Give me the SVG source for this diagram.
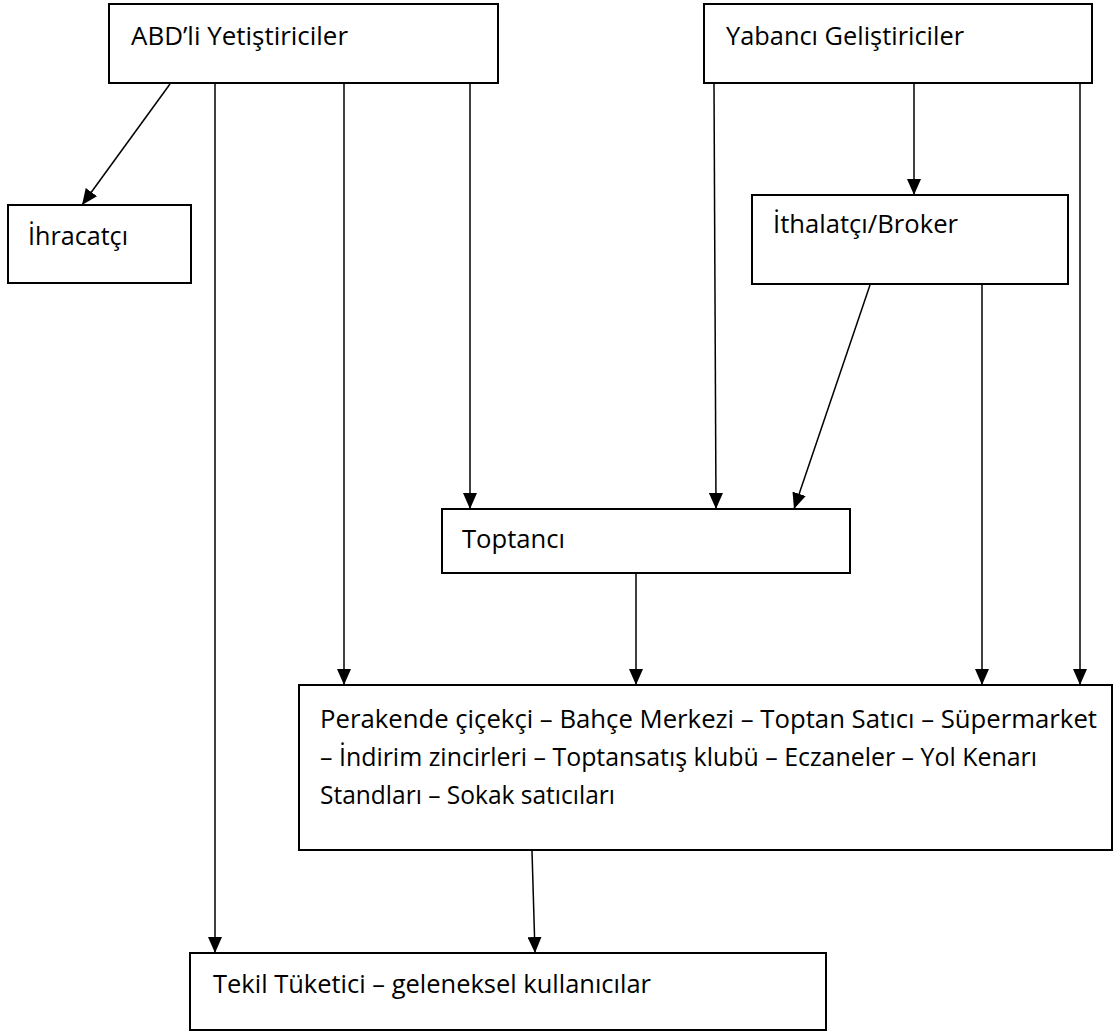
<svg xmlns="http://www.w3.org/2000/svg" width="1114" height="1033" viewBox="0 0 1114 1033">
  <style>
    .box { fill: #ffffff; stroke: #000000; stroke-width: 2; }
    .lbl { font-family: "Open Sans", "Noto Sans", "DejaVu Sans", sans-serif; font-size: 26px; fill: #000000; }
    .conn line { stroke: #000000; stroke-width: 1.5; marker-end: url(#arrow); }
  </style>
  <defs>
    <marker id="arrow" markerUnits="userSpaceOnUse" markerWidth="16" markerHeight="14" refX="16" refY="7" orient="auto">
      <path d="M0,0 L16,7 L0,14 z" fill="#000000"/>
    </marker>
  </defs>
  <rect x="0" y="0" width="1114" height="1033" fill="#ffffff"/>

  <g id="connectors" class="conn">
    <line x1="170" y1="84" x2="82" y2="205"/>
    <line x1="215" y1="84" x2="215" y2="953"/>
    <line x1="344" y1="84" x2="344" y2="685"/>
    <line x1="470" y1="84" x2="470" y2="509"/>
    <line x1="714" y1="84" x2="716" y2="509"/>
    <line x1="914" y1="84" x2="914" y2="195"/>
    <line x1="1080" y1="84" x2="1080" y2="685"/>
    <line x1="870" y1="285" x2="794" y2="509"/>
    <line x1="982" y1="285" x2="982" y2="685"/>
    <line x1="636" y1="574" x2="636" y2="685"/>
    <line x1="532" y1="851" x2="535" y2="953"/>
  </g>

  <g id="node-abd">
    <rect class="box" x="109" y="4" width="389" height="79"/>
    <text class="lbl" x="131" y="45" textLength="217" lengthAdjust="spacingAndGlyphs">ABD’li Yetiştiriciler</text>
  </g>
  <g id="node-yabanci">
    <rect class="box" x="704" y="4" width="388" height="79"/>
    <text class="lbl" x="726" y="45" textLength="238" lengthAdjust="spacingAndGlyphs">Yabancı Geliştiriciler</text>
  </g>
  <g id="node-ihracatci">
    <rect class="box" x="8" y="205" width="183" height="78"/>
    <text class="lbl" x="28" y="245" textLength="100" lengthAdjust="spacingAndGlyphs">İhracatçı</text>
  </g>
  <g id="node-ithalatci">
    <rect class="box" x="752" y="195" width="316" height="89"/>
    <text class="lbl" x="773" y="233" textLength="185" lengthAdjust="spacingAndGlyphs">İthalatçı/Broker</text>
  </g>
  <g id="node-toptanci">
    <rect class="box" x="442" y="509" width="408" height="64"/>
    <text class="lbl" x="462" y="548" textLength="103" lengthAdjust="spacingAndGlyphs">Toptancı</text>
  </g>
  <g id="node-perakende">
    <rect class="box" x="299" y="685" width="813" height="165"/>
    <text class="lbl" x="320" y="728" textLength="777" lengthAdjust="spacingAndGlyphs">Perakende çiçekçi – Bahçe Merkezi – Toptan Satıcı – Süpermarket</text>
    <text class="lbl" x="320" y="766" textLength="717" lengthAdjust="spacingAndGlyphs">– İndirim zincirleri – Toptansatış klubü – Eczaneler – Yol Kenarı</text>
    <text class="lbl" x="320" y="804" textLength="295" lengthAdjust="spacingAndGlyphs">Standları – Sokak satıcıları</text>
  </g>
  <g id="node-tekil">
    <rect class="box" x="190" y="953" width="636" height="77"/>
    <text class="lbl" x="213" y="993" textLength="438" lengthAdjust="spacingAndGlyphs">Tekil Tüketici – geleneksel kullanıcılar</text>
  </g>
</svg>
